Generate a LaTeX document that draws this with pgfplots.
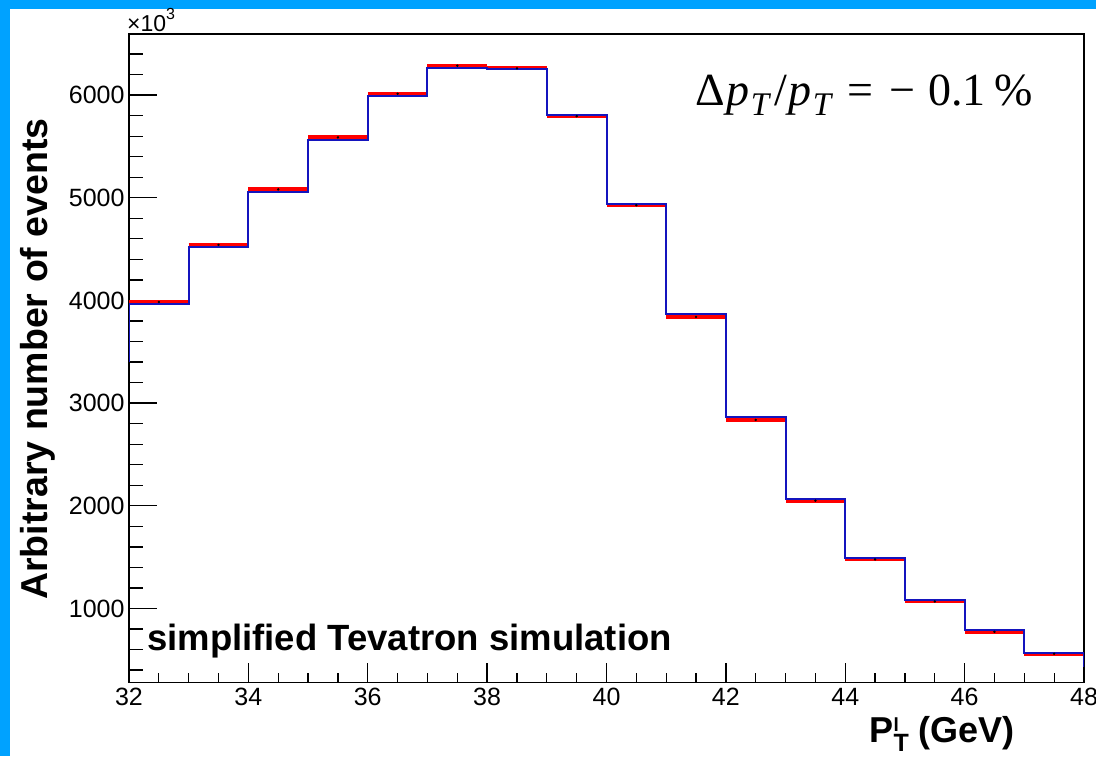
\documentclass[border=0pt]{standalone}
\usepackage{pgfplots}
\pgfplotsset{compat=1.18}
\usepackage{fontspec}
\setmainfont{Liberation Sans}
\newfontfamily\seriffont{Liberation Serif}
\definecolor{frameblue}{RGB}{0,162,255}
\definecolor{histblue}{RGB}{20,20,190}
\begin{document}
\begin{tikzpicture}[x=1pt,y=1pt]
\useasboundingbox (0,0) rectangle (1096,756);
\fill[white] (0,0) rectangle (1096,756);
\fill[frameblue] (0,0) rectangle (10,756);
\fill[frameblue] (0,747) rectangle (1096,756);
\begin{axis}[
  at={(129pt,73.5pt)}, anchor=south west,
  width=955pt, height=648.5pt, scale only axis,
  xmin=32, xmax=48, ymin=279, ymax=6595,
  xtick={32,34,...,48}, minor xtick={32.5,33,...,47.5},
  ytick={1000,2000,...,6000}, minor ytick={400,600,...,6400},
  tick align=inside, xtick pos=bottom, ytick pos=left,
  major tick length=24pt, minor tick length=12pt,
  xtick style={/pgfplots/major tick length=19pt,/pgfplots/minor tick length=9.5pt},
  ytick style={/pgfplots/major tick length=28pt,/pgfplots/minor tick length=14pt},
  every tick/.style={black, line width=1.3pt},
  axis line style={black, line width=1.5pt},
  tick label style={font=\fontsize{25}{28}\selectfont},
  /pgf/number format/assume math mode=true,
  /pgf/number format/1000 sep={},
  xticklabel style={yshift=-2pt},
  yticklabel style={xshift=-1pt},
]
\addplot[red, line width=4pt, jump mark left] coordinates {
(32,3985) (33,4541) (34,5081) (35,5588) (36,6013) (37,6286) (38,6260) (39,5795)
(40,4928) (41,3840) (42,2836) (43,2050) (44,1478) (45,1068) (46,773) (47,559) (48,559)};
\addplot[histblue, line width=2pt, const plot mark left] coordinates {
(32,3398) (32,3963) (33,4522) (34,5052) (35,5558) (36,5990) (37,6263) (38,6250) (39,5808)
(40,4944) (41,3872) (42,2865) (43,2062) (44,1494) (45,1085) (46,786) (47,568) (48,568) (48,428)};
\addplot[black, only marks, mark=*, mark size=1pt] coordinates {
(32.5,3985) (33.5,4541) (34.5,5081) (35.5,5588) (36.5,6013) (37.5,6286) (38.5,6260) (39.5,5795)
(40.5,4928) (41.5,3840) (42.5,2836) (43.5,2050) (44.5,1478) (45.5,1068) (46.5,773) (47.5,559)};
\end{axis}
\node[anchor=base west, inner sep=0, font=\fontsize{23}{25}\selectfont] at (127,724) {×10\raisebox{0.55em}{\fontsize{16}{16}\selectfont 3}};
\node[rotate=90, anchor=base, inner sep=0, font=\bfseries\fontsize{37.5}{40}\selectfont] at (47,397) {Arbitrary number of events};
\node[anchor=base east, inner sep=0, font=\bfseries\fontsize{36}{40}\selectfont] at (1015,14) {P\makebox[0pt][l]{\raisebox{0.3em}{\fontsize{19}{19}\selectfont l}}\raisebox{-0.27em}{\fontsize{25}{25}\selectfont T} (GeV)};
\node[anchor=base west, inner sep=0, font=\bfseries\fontsize{36.5}{40}\selectfont] at (147,106) {simplified Tevatron simulation};
\node[anchor=base west, inner sep=0, font=\seriffont\fontsize{46}{48}\selectfont] at (695,650) {Δ\hspace{2pt}\textit{p}\hspace{1pt}\raisebox{-0.2em}{\fontsize{33}{33}\selectfont\textit{T}}\hspace{3pt}/\hspace{2pt}\textit{p}\hspace{1pt}\raisebox{-0.2em}{\fontsize{33}{33}\selectfont\textit{T}}\hspace{14pt}=\hspace{16pt}−\hspace{13pt}0.1\hspace{9pt}\%};
\end{tikzpicture}
\end{document}
